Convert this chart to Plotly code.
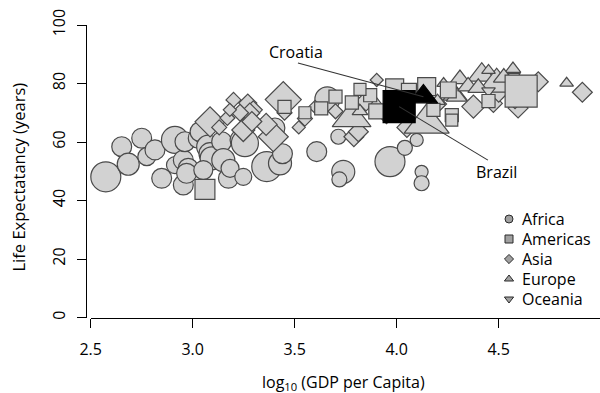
import numpy as np
import plotly.graph_objects as go

# ---------------- data ----------------
africa_x = [2.574, 2.652, 2.684, 2.750, 2.775, 2.815, 2.848, 2.913, 2.913, 2.954, 2.954, 2.962, 2.978, 2.970,
            3.027, 3.036, 3.076, 3.085, 3.093, 3.052, 3.142, 3.150, 3.175, 3.183, 3.232, 3.248, 3.256, 3.363,
            3.428, 3.440, 3.403, 3.608, 3.660, 3.714, 3.738, 3.719, 3.967, 4.040, 4.098, 4.122, 4.122]
africa_y = [48.1, 58.4, 52.4, 61.3, 55.0, 57.3, 47.6, 60.7, 52.1, 45.3, 53.8, 60.1, 51.0, 49.3,
            61.3, 63.5, 58.4, 56.0, 54.4, 50.4, 60.1, 53.8, 47.6, 51.0, 60.7, 48.1, 59.6, 51.6,
            52.7, 56.0, 64.8, 56.7, 74.6, 61.8, 49.8, 47.2, 53.3, 58.0, 60.7, 49.8, 45.9]
africa_pop = [100, 44, 54, 44, 36, 44, 44, 81, 32, 44, 44, 44, 44, 44,
              44, 44, 59, 54, 59, 40, 44, 59, 44, 36, 44, 32, 81, 100,
              59, 44, 44, 44, 69, 25, 59, 25, 100, 25, 19, 19, 25]

americas_x = [3.060, 4.610, 4.270, 4.253, 4.147, 3.990, 4.060, 3.870, 3.780, 3.630, 3.550, 3.900,
              4.270, 4.450, 3.700, 4.180, 3.450, 3.820]
americas_y = [43.8, 77.4, 69.2, 77.8, 78.9, 78.5, 77.5, 76.0, 73.5, 71.5, 70.0, 70.5,
              67.5, 74.0, 75.5, 71.0, 72.0, 78.0]
americas_pop = [44, 114, 19, 28, 36, 36, 25, 19, 19, 19, 16, 25,
                16, 19, 19, 19, 19, 16]

asia_x = [3.085, 3.170, 3.200, 3.270, 3.297, 3.280, 3.248, 3.395, 3.360, 3.444, 3.232, 3.182, 3.290,
          3.550, 3.600, 3.790, 3.812, 3.902, 3.850, 3.950, 4.050, 4.376, 4.474, 4.595, 4.694, 4.910,
          4.500, 4.200, 3.700, 3.450, 3.520, 4.580, 3.130]
asia_y = [66.9, 68.2, 74.4, 73.3, 71.0, 69.9, 64.1, 61.8, 66.0, 74.5, 70.0, 71.0, 67.0,
          68.0, 72.0, 61.8, 63.5, 81.2, 74.0, 70.0, 65.0, 72.1, 73.2, 71.6, 80.6, 77.0,
          77.0, 73.0, 70.5, 70.0, 65.0, 74.5, 65.0]
asia_pop = [100, 25, 25, 36, 36, 44, 59, 100, 54, 144, 32, 19, 44,
            25, 19, 44, 44, 19, 44, 54, 44, 59, 36, 44, 44, 44,
            44, 36, 25, 25, 19, 36, 25]

europe_x = [3.779, 4.147, 4.286, 4.310, 4.294, 4.417, 4.490, 4.570, 4.833, 4.350, 4.400, 4.230,
            4.450, 4.200, 4.050, 3.980, 3.900, 3.970, 4.620, 3.820, 4.525]
europe_y = [68.1, 66.4, 76.1, 81.5, 75.5, 82.9, 79.8, 85.0, 80.1, 79.0, 78.5, 80.0,
            84.5, 74.0, 74.0, 75.5, 73.0, 78.0, 80.0, 70.5, 82.0]
europe_pop = [152, 205, 59, 44, 44, 81, 136, 25, 19, 44, 44, 19,
              19, 25, 25, 25, 25, 19, 19, 25, 44]

oceania_x = [4.575, 4.450]
oceania_y = [82.5, 77.5]
oceania_pop = [16, 19]

highlight_names = ["Brazil", "Croatia"]
highlight_continent = ["Americas", "Europe"]
highlight_x = [4.012, 4.131]
highlight_y = [72.1, 75.5]
highlight_pop = [114, 81]

continents = ["Africa", "Americas", "Asia", "Europe", "Oceania"]
x_ticks = [2.5, 3.0, 3.5, 4.0, 4.5]
y_ticks = [0, 20, 40, 60, 80, 100]

# ---------------- styling ----------------
FONT = "Open Sans"
symbols = {"Africa": "circle", "Americas": "square", "Asia": "diamond",
           "Europe": "triangle-up", "Oceania": "triangle-down"}
shape_factor = {"circle": 1.0, "square": 1.0, "diamond": 1 / 1.3,
                "triangle-up": 1 / 1.1, "triangle-down": 1 / 1.1}
PX_PER_SQRT = 3.0
draw_order = ["Africa", "Asia", "Europe", "Oceania", "Americas"]


def marker_sizes(pop, symbol):
    return [PX_PER_SQRT * np.sqrt(p) * shape_factor[symbol] for p in pop]


data = {
    "Africa": (africa_x, africa_y, africa_pop),
    "Americas": (americas_x, americas_y, americas_pop),
    "Asia": (asia_x, asia_y, asia_pop),
    "Europe": (europe_x, europe_y, europe_pop),
    "Oceania": (oceania_x, oceania_y, oceania_pop),
}

W, H = 600, 393
x_left_px, x_px_per_unit = 90.7, 204.0
y_bottom_px, y_top_px = 317.5, 25.0
xmax = 2.5 + (W - x_left_px) / x_px_per_unit

fig = go.Figure()

for c in draw_order:
    xs, ys, ps = data[c]
    sym = symbols[c]
    fig.add_trace(go.Scatter(
        x=xs, y=ys, mode="markers", showlegend=False, hoverinfo="skip", cliponaxis=False,
        marker=dict(symbol=sym, size=marker_sizes(ps, sym), color="#d2d2d2",
                    line=dict(color="#4a4a4a", width=1.2), opacity=1),
        xaxis="x", yaxis="y"))

for i, name in enumerate(highlight_names):
    sym = symbols[highlight_continent[i]]
    fig.add_trace(go.Scatter(
        x=[highlight_x[i]], y=[highlight_y[i]], mode="markers", showlegend=False,
        hoverinfo="skip", cliponaxis=False,
        marker=dict(symbol=sym, size=marker_sizes([highlight_pop[i]], sym)[0], color="black",
                    line=dict(color="black", width=1.2), opacity=1),
        xaxis="x", yaxis="y"))

# label positions (data units)
labels = {"Croatia": dict(tx=3.506, ty=90.8, lx=3.516, ly=87.0),
          "Brazil": dict(tx=4.491, ty=49.9, lx=4.447, ly=53.8)}
for i, name in enumerate(highlight_names):
    L = labels[name]
    fig.add_shape(type="line", xref="x", yref="y", x0=L["lx"], y0=L["ly"],
                  x1=highlight_x[i], y1=highlight_y[i],
                  line=dict(color="#333333", width=1.1), layer="above")
    fig.add_annotation(x=L["tx"], y=L["ty"], xref="x", yref="y", text=name, showarrow=False,
                       font=dict(family=FONT, size=16, color="black"),
                       xanchor="center", yanchor="middle")

# manual legend on a pixel-coordinate overlay axis
leg_sym_x = 509
leg_rows = [219, 239, 259, 279, 299]
fig.add_trace(go.Scatter(
    x=[leg_sym_x] * len(continents), y=leg_rows, mode="markers", showlegend=False,
    hoverinfo="skip", cliponaxis=False, xaxis="x2", yaxis="y2",
    marker=dict(symbol=[symbols[c] for c in continents],
                size=[8, 8, 7, 8, 8], opacity=1,
                color="#a0a0a0", line=dict(color="#2a2a2a", width=1))))
for c, yy in zip(continents, leg_rows):
    fig.add_annotation(x=520, y=yy, xref="x2", yref="y2", text=c, showarrow=False,
                       font=dict(family=FONT, size=16, color="black"),
                       xanchor="left", yanchor="middle")

# axis titles (pixel overlay axis)
fig.add_annotation(x=343, y=382, xref="x2", yref="y2",
                   text="log<sub>10</sub> (GDP per Capita)", showarrow=False,
                   font=dict(family=FONT, size=16, color="black"),
                   xanchor="center", yanchor="middle")
fig.add_annotation(x=18, y=177.5, xref="x2", yref="y2",
                   text="Life Expectatancy (years)", showarrow=False, textangle=-90,
                   font=dict(family=FONT, size=16.5, color="black"),
                   xanchor="center", yanchor="middle")

fig.update_layout(
    width=W, height=H, margin=dict(l=0, r=0, t=0, b=0),
    paper_bgcolor="white", plot_bgcolor="rgba(0,0,0,0)",
    font=dict(family=FONT, size=16, color="black"),
    showlegend=False,
    xaxis=dict(domain=[x_left_px / W, 1.0], range=[2.5, xmax], anchor="y",
               showline=True, linecolor="black", linewidth=1,
               ticks="outside", ticklen=9, tickwidth=1, tickcolor="black",
               tickvals=x_ticks, tickformat=".1f", showgrid=False, zeroline=False,
               ticklabelstandoff=8,
               tickfont=dict(family=FONT, size=16, color="black"), automargin=False),
    yaxis=dict(domain=[(H - y_bottom_px) / H, (H - y_top_px) / H], range=[0, 100],
               anchor="free", position=85.7 / W,
               showline=True, linecolor="black", linewidth=1,
               ticks="outside", ticklen=9, tickwidth=1, tickcolor="black",
               tickvals=y_ticks, tickangle=-90, showgrid=False, zeroline=False,
               ticklabelstandoff=5,
               tickfont=dict(family=FONT, size=16, color="black"), automargin=False),
    xaxis2=dict(domain=[0, 1], range=[0, W], anchor="y2", visible=False, fixedrange=True),
    yaxis2=dict(domain=[0, 1], range=[H, 0], anchor="x2", visible=False, fixedrange=True),
)

fig.write_html("out.html")
